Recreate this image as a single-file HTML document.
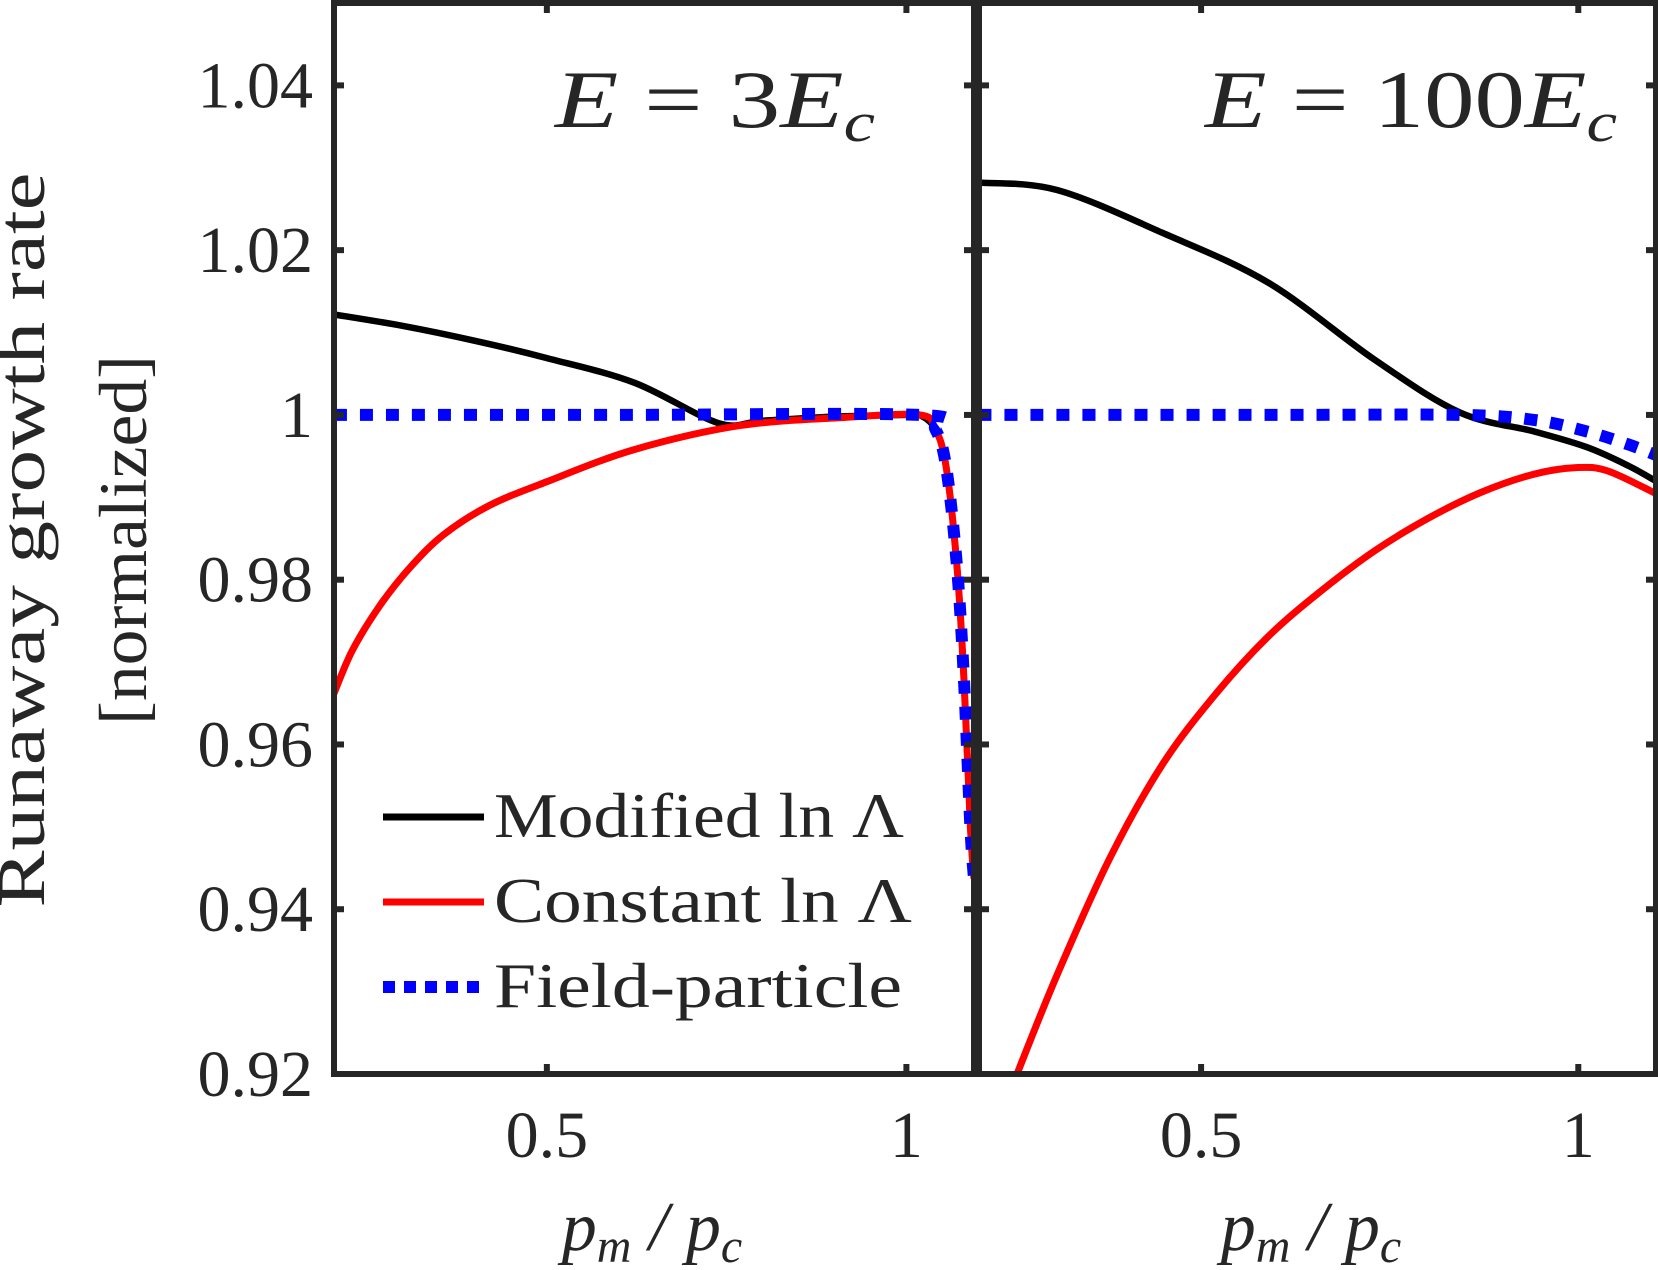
<!DOCTYPE html>
<html><head><meta charset="utf-8"><style>
html,body{margin:0;padding:0;background:#fff;}
svg{display:block;}
text{font-family:"Liberation Serif","DejaVu Serif",serif;fill:#262626;}
</style></head><body>
<svg id="chart" width="1658" height="1270" viewBox="0 0 1658 1270" xmlns="http://www.w3.org/2000/svg">
<g id="plots"></g>
<g id="axes"></g>
<text x="44" y="540" font-size="68" text-anchor="middle" textLength="735" lengthAdjust="spacingAndGlyphs" transform="rotate(-90 44 540)">Runaway growth rate</text>
<text x="146" y="540" font-size="68" text-anchor="middle" textLength="370" lengthAdjust="spacingAndGlyphs" transform="rotate(-90 146 540)">[normalized]</text>
<text x="652" y="1250" font-size="70" font-style="italic" text-anchor="middle">p<tspan font-size="48" dy="12">m</tspan><tspan dy="-12"> / p</tspan><tspan font-size="48" dy="12">c</tspan></text>
<text x="1311" y="1250" font-size="70" font-style="italic" text-anchor="middle">p<tspan font-size="48" dy="12">m</tspan><tspan dy="-12"> / p</tspan><tspan font-size="48" dy="12">c</tspan></text>
<text x="555" y="127" font-size="82" font-style="italic" textLength="320" lengthAdjust="spacingAndGlyphs">E <tspan font-style="normal">= 3</tspan>E<tspan font-size="56" dy="14">c</tspan></text>
<text x="1205" y="127" font-size="82" font-style="italic" textLength="412" lengthAdjust="spacingAndGlyphs">E <tspan font-style="normal">= 100</tspan>E<tspan font-size="56" dy="14">c</tspan></text>
<g>
<line x1="383" y1="817" x2="484" y2="817" stroke="#000" stroke-width="7"/>
<text x="494" y="837" font-size="64" textLength="410" lengthAdjust="spacingAndGlyphs">Modified ln Λ</text>
<line x1="383" y1="902" x2="484" y2="902" stroke="#f00" stroke-width="7"/>
<text x="494" y="922" font-size="64" textLength="418" lengthAdjust="spacingAndGlyphs">Constant ln Λ</text>
<line x1="383" y1="987" x2="484" y2="987" stroke="#00f" stroke-width="12" stroke-dasharray="12 9"/>
<text x="494" y="1007" font-size="64" textLength="408" lengthAdjust="spacingAndGlyphs">Field-particle</text>
</g>
</svg>
<script>
// Left panel (E = 3Ec)
const leftBlackX = [0.204,0.3,0.4,0.5,0.622,0.739,0.8,0.9,1.0,1.018,1.04,1.055,1.07,1.08,1.089,1.094];
const leftBlackY = [1.0122,1.0108,1.009,1.0069,1.0039,0.999,0.9993,0.9998,1.0,1.0,0.9983,0.9938,0.982,0.968,0.950,0.9437];
const leftRedX = [0.204,0.23,0.269,0.31,0.357,0.42,0.5,0.622,0.768,0.915,1.018,1.04,1.055,1.07,1.08,1.089,1.094];
const leftRedY = [0.9662,0.9715,0.977,0.9815,0.9855,0.989,0.9919,0.9958,0.9987,0.9997,1.0,0.9983,0.9938,0.982,0.968,0.950,0.9437];
const leftBlueX = [0.204,0.6,1.018,1.04,1.055,1.07,1.08,1.089,1.094];
const leftBlueY = [1.0,1.0,1.0,0.9983,0.9938,0.982,0.968,0.950,0.9437];
// Right panel (E = 100Ec)
const rightBlackX = [0.205,0.309,0.449,0.59,0.73,0.843,0.941,1.011,1.067,1.104];
const rightBlackY = [1.0282,1.0273,1.0221,1.016,1.0067,1.0003,0.998,0.9961,0.9938,0.9919];
const rightRedX = [0.256,0.309,0.379,0.449,0.52,0.59,0.66,0.73,0.8,0.871,0.941,0.997,1.039,1.104];
const rightRedY = [0.92,0.932,0.9462,0.9576,0.9662,0.9732,0.9787,0.9835,0.9874,0.9906,0.9928,0.9936,0.9932,0.9904];
const rightBlueX = [0.205,0.6,0.843,0.941,1.011,1.067,1.104];
const rightBlueY = [1.0,1.0,1.0,0.9994,0.998,0.9964,0.9951];
const yTicks = [0.92,0.94,0.96,0.98,1.0,1.02,1.04];
const yTickLabels = ["0.92","0.94","0.96","0.98","1","1.02","1.04"];
const xTicks = [0.5,1];
const xTickLabels = ["0.5","1"];

const NS="http://www.w3.org/2000/svg";
const yTop=3, yBot=1074, yMin=0.92, yMax=1.05;
function yS(v){return yBot-(v-yMin)/(yMax-yMin)*(yBot-yTop);}
const panels=[
 {name:'left',x0:334,x1:974,xmin:0.204,xmax:1.094,series:[[leftBlackX,leftBlackY,'black'],[leftRedX,leftRedY,'red'],[leftBlueX,leftBlueY,'blue']]},
 {name:'right',x0:979,x1:1656,xmin:0.2056,xmax:1.103,series:[[rightBlackX,rightBlackY,'black'],[rightRedX,rightRedY,'red'],[rightBlueX,rightBlueY,'blue']]}
];
const plots=document.getElementById('plots'), axes=document.getElementById('axes');
function mk(tag,attrs,parent){const e=document.createElementNS(NS,tag);for(const k in attrs)e.setAttribute(k,attrs[k]);parent.appendChild(e);return e;}
function smooth(pts){
 let d='M'+pts[0][0].toFixed(1)+' '+pts[0][1].toFixed(1);
 for(let i=0;i<pts.length-1;i++){
  const p0=pts[Math.max(0,i-1)],p1=pts[i],p2=pts[i+1],p3=pts[Math.min(pts.length-1,i+2)];
  const c1=[p1[0]+(p2[0]-p0[0])/6,p1[1]+(p2[1]-p0[1])/6];
  const c2=[p2[0]-(p3[0]-p1[0])/6,p2[1]-(p3[1]-p1[1])/6];
  d+=' C'+c1[0].toFixed(1)+' '+c1[1].toFixed(1)+' '+c2[0].toFixed(1)+' '+c2[1].toFixed(1)+' '+p2[0].toFixed(1)+' '+p2[1].toFixed(1);
 }
 return d;
}
panels.forEach(p=>{
 const xS=v=>p.x0+(v-p.xmin)/(p.xmax-p.xmin)*(p.x1-p.x0);
 const clipId='clip-'+p.name;
 const cp=mk('clipPath',{id:clipId},plots);
 mk('rect',{x:p.x0,y:yTop,width:p.x1-p.x0,height:yBot-yTop},cp);
 const g=mk('g',{'clip-path':'url(#'+clipId+')'},plots);
 p.series.forEach(s=>{
  const pts=s[0].map((x,i)=>[xS(x),yS(s[1][i])]);
  const col=s[2]==='red'?'#f00':s[2]==='black'?'#000':'#00f';
  const path=mk('path',{d:smooth(pts),fill:'none',stroke:col,'stroke-width':s[2]==='blue'?12:(s[2]==='red'?7:6.5),'stroke-linejoin':'round'},g);
  if(s[2]==='blue')path.setAttribute('stroke-dasharray','13 13');
  
  
 });
 const frame=mk('rect',{x:p.x0,y:yTop,width:p.x1-p.x0,height:yBot-yTop,fill:'none',stroke:'#262626','stroke-width':6},axes);
 
 
 yTicks.forEach((v,i)=>{
  const y=yS(v);
  mk('line',{x1:p.x0,y1:y,x2:p.x0+10,y2:y,stroke:'#262626','stroke-width':6},axes);
  mk('line',{x1:p.x1,y1:y,x2:p.x1-10,y2:y,stroke:'#262626','stroke-width':6},axes);
  if(p.name==='left'){
   const t=mk('text',{x:313,y:y+22,'font-size':66,'text-anchor':'end'},axes);
   t.textContent=yTickLabels[i];
   
   
  }
 });
 xTicks.forEach((v,i)=>{
  const x=xS(v);
  mk('line',{x1:x,y1:yBot,x2:x,y2:yBot-10,stroke:'#262626','stroke-width':6},axes);
  mk('line',{x1:x,y1:yTop,x2:x,y2:yTop+10,stroke:'#262626','stroke-width':6},axes);
  const t=mk('text',{x:x,y:1157,'font-size':66,'text-anchor':'middle'},axes);
  t.textContent=xTickLabels[i];
  
  
 });
});
</script>
</body></html>
